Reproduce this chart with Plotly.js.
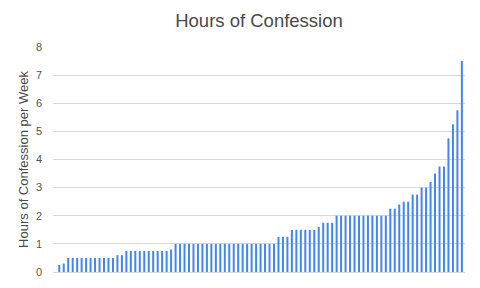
<!DOCTYPE html>
<html>
<head>
<meta charset="utf-8">
<script src="https://cdn.plot.ly/plotly-3.0.1.min.js"></script>
<style>html,body{margin:0;padding:0;background:#fff}#chart{width:480px;height:288px}</style>
</head>
<body>
<div id="chart"></div>
<script>
const respondents = Array.from({length: 91}, (_, i) => i + 1);
const hours = [
  0.25, 0.3,
  0.5, 0.5, 0.5, 0.5, 0.5, 0.5, 0.5, 0.5, 0.5, 0.5, 0.5,
  0.6, 0.6,
  0.75, 0.75, 0.75, 0.75, 0.75, 0.75, 0.75, 0.75, 0.75, 0.75,
  0.8,
  1, 1, 1, 1, 1, 1, 1, 1, 1, 1, 1, 1, 1, 1, 1, 1, 1, 1, 1, 1, 1, 1, 1,
  1.25, 1.25, 1.25,
  1.5, 1.5, 1.5, 1.5, 1.5, 1.5,
  1.6,
  1.75, 1.75, 1.75,
  2, 2, 2, 2, 2, 2, 2, 2, 2, 2, 2, 2,
  2.25, 2.25,
  2.4,
  2.5, 2.5,
  2.75, 2.75,
  3, 3,
  3.2,
  3.5,
  3.75, 3.75,
  4.75,
  5.25,
  5.75,
  7.5
];
const yTicks = [0, 1, 2, 3, 4, 5, 6, 7, 8];

const trace = {
  type: 'bar',
  x: respondents.map(String),
  y: hours,
  marker: {color: '#4285f4'},
  hoverinfo: 'none'
};

const layout = {
  width: 480, height: 288,
  margin: {l: 53, r: 15, t: 47, b: 16},
  paper_bgcolor: '#fff', plot_bgcolor: '#fff',
  bargap: 0.55,
  showlegend: false,
  title: {
    text: 'Hours of Confession',
    font: {family: 'Liberation Sans, Arial, sans-serif', size: 18.5, color: '#4a4a4a'},
    x: 0.5, xref: 'paper', xanchor: 'center',
    y: 0.927, yref: 'container', yanchor: 'middle'
  },
  xaxis: {
    type: 'category',
    range: [-1.4, 90.7],
    showticklabels: false,
    showgrid: false,
    zeroline: false,
    showline: false,
    ticks: ''
  },
  yaxis: {
    range: [0, 8],
    tickvals: yTicks,
    ticktext: yTicks.map(String),
    showgrid: true,
    gridcolor: '#d9d9d9',
    gridwidth: 1,
    zeroline: true,
    zerolinecolor: '#d9d9d9',
    zerolinewidth: 1,
    showline: false,
    ticks: '',
    ticklabelstandoff: 10,
    tickfont: {family: 'Liberation Sans, Arial, sans-serif', size: 11, color: '#555'},
    title: {
      text: 'Hours of Confession per Week',
      font: {family: 'Liberation Sans, Arial, sans-serif', size: 13, color: '#4a4a4a'},
      standoff: 4
    }
  }
};

Plotly.newPlot('chart', [trace], layout, {staticPlot: true, displayModeBar: false});
</script>
</body>
</html>
